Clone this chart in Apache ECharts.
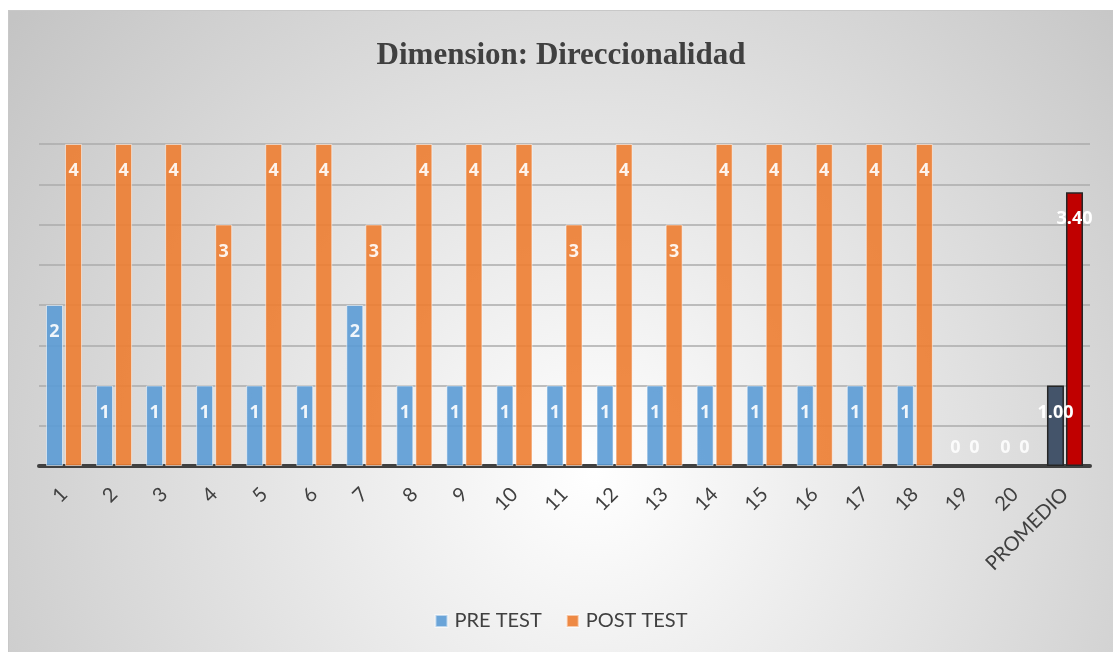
<!DOCTYPE html>
<html><head><meta charset="utf-8">
<script src="https://cdn.jsdelivr.net/npm/echarts@6/dist/echarts.min.js"></script>
<style>
html,body{margin:0;padding:0;background:#fff;}
#c{position:absolute;left:8px;top:10px;width:1105px;height:642px;border-top:1px solid #c8c8c8;border-left:1px solid #c8c8c8;box-sizing:border-box;}
</style></head>
<body><div id="c"></div>
<script>
const categories = ['1','2','3','4','5','6','7','8','9','10','11','12','13','14','15','16','17','18','19','20','PROMEDIO'];
const preTest  = [2,1,1,1,1,1,2,1,1,1,1,1,1,1,1,1,1,1,0,0,1.00];
const postTest = [4,4,4,3,4,4,3,4,4,4,3,4,3,4,4,4,4,4,0,0,3.40];
const avgIndex = categories.length - 1;

function buildData(vals, avgColor) {
  return vals.map((v, i) => {
    const d = { value: v };
    if (i === avgIndex) {
      d.itemStyle = { color: avgColor, opacity: 1, borderColor: '#262626', borderWidth: 1.5 };
    }
    if (v === 0) {
      d.itemStyle = { borderWidth: 0, color: 'rgba(0,0,0,0)' };
      d.label = { position: 'top', distance: 9, fontWeight: 'bold', fontSize: 18, color: 'rgba(255,255,255,0.95)' };
    }
    return d;
  });
}
const labelFmt = p => p.dataIndex === avgIndex ? p.value.toFixed(2) : String(p.value);

const chart = echarts.init(document.getElementById('c'));
chart.setOption({
  backgroundColor: {
    type: 'radial', x: 0.53, y: 0.72, r: 1.15,
    colorStops: [{ offset: 0, color: '#ffffff' }, { offset: 1, color: '#c4c4c4' }]
  },
  title: {
    text: 'Dimension: Direccionalidad', left: 'center', top: 24,
    textStyle: { fontFamily: 'Liberation Serif', fontWeight: 'bold', fontSize: 31, color: '#404040' }
  },
  legend: {
    bottom: 16, left: 'center', itemWidth: 12, itemHeight: 12, itemGap: 24,
    icon: 'rect',
    textStyle: { fontFamily: 'Lato, Open Sans, sans-serif', fontSize: 20, color: '#404040', padding: [0, 0, 0, 2] },
    data: ['PRE TEST', 'POST TEST']
  },
  grid: { left: 30, right: 23, top: 133, bottom: 186 },
  xAxis: {
    type: 'category', data: categories,
    axisLine: { lineStyle: { color: '#404040', width: 4 } },
    axisTick: { show: false },
    axisLabel: { rotate: 45, margin: 25, fontFamily: 'Lato, Open Sans, sans-serif', fontSize: 20, color: '#404040', interval: 0 }
  },
  yAxis: {
    type: 'value', min: 0, max: 4, interval: 0.5,
    axisLabel: { show: false }, axisLine: { show: false }, axisTick: { show: false },
    splitLine: { lineStyle: { color: '#ababab', width: 1.5 } }
  },
  series: [
    {
      name: 'PRE TEST', type: 'bar', data: buildData(preTest, '#44546a'),
      barGap: '12%', barCategoryGap: '28%',
      itemStyle: { color: '#5b9bd5', opacity: 0.9, borderColor: 'rgba(255,255,255,0.6)', borderWidth: 1 },
      label: { show: true, position: 'insideTop', distance: 18, color: '#fff', fontWeight: 'bold', fontSize: 18, fontFamily: 'Open Sans, sans-serif', formatter: labelFmt }
    },
    {
      name: 'POST TEST', type: 'bar', data: buildData(postTest, '#c00000'),
      itemStyle: { color: '#ed7d31', opacity: 0.9, borderColor: 'rgba(255,255,255,0.6)', borderWidth: 1 },
      label: { show: true, position: 'insideTop', distance: 18, color: '#fff', fontWeight: 'bold', fontSize: 18, fontFamily: 'Open Sans, sans-serif', formatter: labelFmt }
    }
  ]
});
</script></body></html>
